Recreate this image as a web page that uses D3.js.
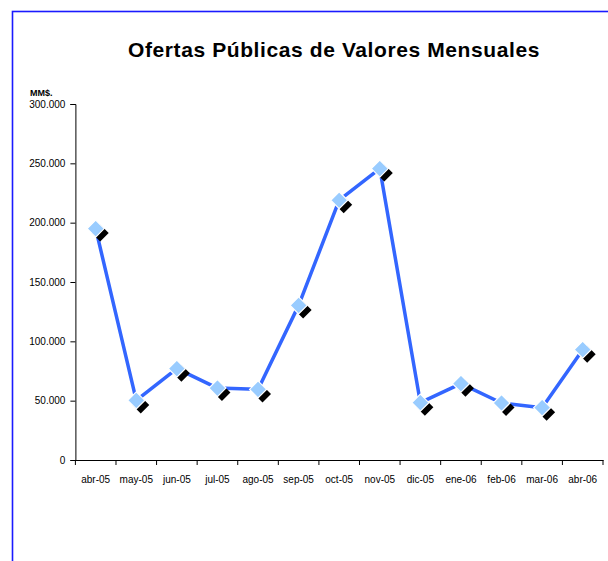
<!DOCTYPE html>
<html>
<head>
<meta charset="utf-8">
<script src="https://cdn.jsdelivr.net/npm/d3@7"></script>
<style>
  body { margin: 0; background: #fff; }
  text { font-family: "Liberation Sans", Arial, sans-serif; }
</style>
</head>
<body>
<div id="chart"></div>
<script>
// months shown on the x axis
const months = ['abr-05', 'may-05', 'jun-05', 'jul-05', 'ago-05', 'sep-05', 'oct-05',
  'nov-05', 'dic-05', 'ene-06', 'feb-06', 'mar-06', 'abr-06'];
// offers, MM$
const ofertas = [195000, 50200, 77000, 60600, 59500, 130300, 218900,
  245600, 48300, 64300, 48000, 44100, 93000];
const yTicks = [0, 50000, 100000, 150000, 200000, 250000, 300000];

const width = 608, height = 561;
const margin = {top: 104, right: 5, bottom: 101, left: 75.4};

const svg = d3.select('#chart').append('svg')
  .attr('width', width)
  .attr('height', height);

// blue frame, runs off the page on right and bottom
svg.append('rect')
  .attr('x', 12.5).attr('y', 11.5)
  .attr('width', 620).attr('height', 600)
  .attr('fill', 'none')
  .attr('stroke', '#1a1aff')
  .attr('stroke-width', 1.6);

svg.append('text')
  .attr('x', 334).attr('y', 57)
  .attr('text-anchor', 'middle')
  .style('font-size', '21px')
  .style('font-weight', 'bold')
  .style('letter-spacing', '0.6px')
  .text('Ofertas Públicas de Valores Mensuales');

svg.append('text')
  .attr('x', 30).attr('y', 96)
  .style('font-size', '9px')
  .style('font-weight', 'bold')
  .text('MM$.');

const x = d3.scaleBand()
  .domain(months)
  .range([margin.left, width - margin.right]);

const y = d3.scaleLinear()
  .domain([0, 300000])
  .range([height - margin.bottom, margin.top]);

const fmt = d => d3.format(',')(d).replace(/,/g, '.');

// y axis
const yAxis = svg.append('g')
  .attr('transform', `translate(${margin.left},0)`)
  .call(d3.axisLeft(y).tickValues(yTicks).tickFormat(fmt).tickSize(5).tickPadding(5));
yAxis.selectAll('text').style('font-size', '10px').attr('fill', '#000');
yAxis.selectAll('line, path').attr('stroke', '#000');

// x axis, ticks between categories
const xAxis = svg.append('g')
  .attr('transform', `translate(0,${y(0)})`)
  .call(d3.axisBottom(x).tickSize(0).tickPadding(16));
xAxis.select('.domain').attr('stroke', '#000');
xAxis.selectAll('text').style('font-size', '10px').attr('fill', '#000');

const bounds = months.map(m => x(m)).concat([x.range()[1]]);
xAxis.selectAll('.sep')
  .data(bounds)
  .enter().append('line')
  .attr('x1', d => d).attr('x2', d => d)
  .attr('y1', 0).attr('y2', 5)
  .attr('stroke', '#000');

const cx = d => x(d) + x.bandwidth() / 2;

// the line
const line = d3.line()
  .x((d, i) => cx(months[i]))
  .y(d => y(d));

svg.append('path')
  .datum(ofertas)
  .attr('d', line)
  .attr('fill', 'none')
  .attr('stroke', '#3366ff')
  .attr('stroke-width', 3.5)
  .attr('stroke-linejoin', 'round');

// diamond markers with black drop shadow
const diamond = 'M0,-8.5L8.5,0L0,8.5L-8.5,0Z';

svg.selectAll('.shadow')
  .data(ofertas)
  .enter().append('path')
  .attr('class', 'shadow')
  .attr('d', diamond)
  .attr('transform', (d, i) => `translate(${cx(months[i]) + 4.5},${y(d) + 4.5})`)
  .attr('fill', '#000');

svg.selectAll('.marker')
  .data(ofertas)
  .enter().append('path')
  .attr('class', 'marker')
  .attr('d', diamond)
  .attr('transform', (d, i) => `translate(${cx(months[i])},${y(d)})`)
  .attr('fill', '#99ccff')
  .attr('stroke', '#fff')
  .attr('stroke-width', 1.2);
</script>
</body>
</html>
